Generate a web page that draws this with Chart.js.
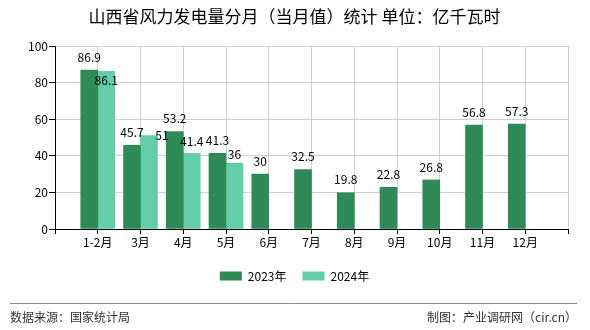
<!DOCTYPE html>
<html>
<head>
<meta charset="utf-8">
<script src="https://cdn.jsdelivr.net/npm/chart.js@4/dist/chart.umd.min.js"></script>
<style>
html,body{margin:0;padding:0;background:#fff;}
#wrap{position:relative;width:590px;height:330px;}
</style>
</head>
<body>
<div id="wrap"><canvas id="c" width="590" height="330"></canvas></div>
<script>
const categories = ['1-2月','3月','4月','5月','6月','7月','8月','9月','10月','11月','12月'];
const series2023 = [86.9, 45.7, 53.2, 41.3, 30, 32.5, 19.8, 22.8, 26.8, 56.8, 57.3];
const series2024 = [86.1, 51, 41.4, 36];
const yTicks = [0, 20, 40, 60, 80, 100];
const seriesNames = ['2023年', '2024年'];
const titleText = '山西省风力发电量分月（当月值）统计 单位：亿千瓦时';
const sourceText = '数据来源：国家统计局';
const makerText = '制图：产业调研网（cir.cn）';

// label offsets (style) for 2024 labels: [dx, dy] relative to bar top
const label2024Offsets = [[0, 9], [13, 0], [0, -12], [0, -9]];

const FONT = '"Noto Sans CJK SC", "Noto Sans", sans-serif';

// padded labels: empty slot on each side
const labels = [''].concat(categories, ['']);
const pad = arr => [null].concat(categories.map((_, i) => (i < arr.length ? arr[i] : null)), [null]);

const labelPlugin = {
  id: 'valueLabels',
  afterDatasetsDraw(chart) {
    const ctx = chart.ctx;
    ctx.save();
    ctx.font = '12px ' + FONT;
    ctx.fillStyle = '#000';
    ctx.textAlign = 'center';
    ctx.textBaseline = 'middle';
    chart.data.datasets.forEach((ds, di) => {
      const meta = chart.getDatasetMeta(di);
      let k = 0;
      meta.data.forEach((el, i) => {
        const v = ds.data[i];
        if (v === null || v === undefined) return;
        let dx = 0, dy = -13;
        if (di === 1) { const o = label2024Offsets[k] || [0, -13]; dx = o[0]; dy = o[1]; }
        ctx.fillText(String(v), el.x + dx, el.y + dy);
        k++;
      });
    });
    ctx.restore();
  },
  afterDraw(chart) {
    const ctx = chart.ctx;
    ctx.save();
    ctx.strokeStyle = '#8c8c8c';
    ctx.lineWidth = 1;
    ctx.beginPath();
    ctx.moveTo(10, 303.5);
    ctx.lineTo(577, 303.5);
    ctx.stroke();
    ctx.font = '12px ' + FONT;
    ctx.fillStyle = '#333';
    ctx.textBaseline = 'middle';
    ctx.textAlign = 'left';
    ctx.fillText(sourceText, 10, 317);
    ctx.textAlign = 'right';
    ctx.fillText(makerText, 577, 317);
    ctx.restore();
  }
};

new Chart(document.getElementById('c'), {
  type: 'bar',
  data: {
    labels: labels,
    datasets: [
      { label: seriesNames[0], data: pad(series2023), backgroundColor: '#2E8B57', barThickness: 17 },
      { label: seriesNames[1], data: pad(series2024), backgroundColor: '#66CDAA', barThickness: 17 }
    ]
  },
  options: {
    responsive: false,
    animation: false,
    devicePixelRatio: 1,
    layout: { padding: { left: 21, right: 22, top: 0, bottom: 38 } },
    plugins: {
      title: {
        display: true, text: titleText, color: '#000',
        font: { family: FONT, size: 17, weight: 'normal' },
        padding: { top: 6, bottom: 19.6 }
      },
      legend: {
        position: 'bottom',
        labels: {
          color: '#000', boxWidth: 22, boxHeight: 9, padding: 16,
          font: { family: FONT, size: 12 }
        }
      },
      tooltip: { enabled: false }
    },
    scales: {
      x: {
        offset: false,
        grid: { color: '#d0d0d0', tickColor: '#000', tickLength: 5, offset: false },
        border: { color: '#000', width: 1 },
        ticks: { color: '#000', font: { family: FONT, size: 12 }, padding: 1, maxRotation: 0, autoSkip: false },
        afterFit(scale) { scale.height = 25; }
      },
      y: {
        min: 0, max: 100,
        afterBuildTicks(scale) { scale.ticks = yTicks.map(v => ({ value: v })); },
        grid: { color: '#d0d0d0', tickColor: '#000', tickLength: 6 },
        border: { color: '#000', width: 1 },
        ticks: { color: '#000', font: { family: FONT, size: 12 }, padding: 1 },
        afterFit(scale) { scale.width = 34; }
      }
    }
  },
  plugins: [labelPlugin]
});
</script>
</body>
</html>
